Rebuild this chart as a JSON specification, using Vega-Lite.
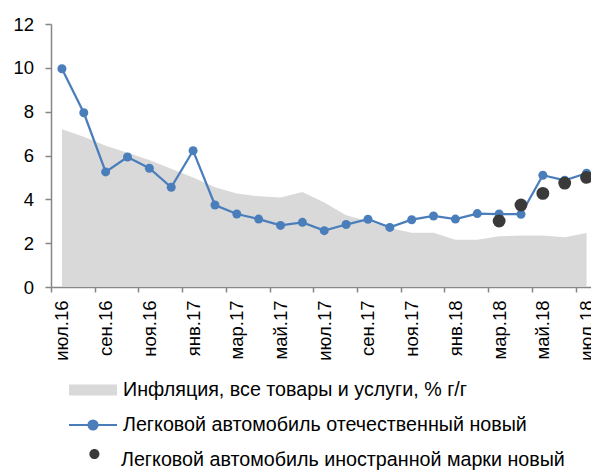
{
  "$schema": "https://vega.github.io/schema/vega-lite/v6.json",
  "width": 540,
  "height": 263,
  "autosize": {"type": "none"},
  "padding": {"left": 51, "top": 24, "right": 0, "bottom": 184},
  "background": "white",
  "data": {
    "values": [
      {"m": "июл.16", "infl": 7.2, "dom": 9.96, "frn": null},
      {"m": "авг.16", "infl": 6.85, "dom": 7.95, "frn": null},
      {"m": "сен.16", "infl": 6.45, "dom": 5.25, "frn": null},
      {"m": "окт.16", "infl": 6.12, "dom": 5.93, "frn": null},
      {"m": "ноя.16", "infl": 5.8, "dom": 5.42, "frn": null},
      {"m": "дек.16", "infl": 5.4, "dom": 4.55, "frn": null},
      {"m": "янв.17", "infl": 5.0, "dom": 6.22, "frn": null},
      {"m": "фев.17", "infl": 4.55, "dom": 3.74, "frn": null},
      {"m": "мар.17", "infl": 4.27, "dom": 3.33, "frn": null},
      {"m": "апр.17", "infl": 4.14, "dom": 3.1, "frn": null},
      {"m": "май.17", "infl": 4.08, "dom": 2.81, "frn": null},
      {"m": "июн.17", "infl": 4.33, "dom": 2.95, "frn": null},
      {"m": "июл.17", "infl": 3.86, "dom": 2.57, "frn": null},
      {"m": "авг.17", "infl": 3.27, "dom": 2.85, "frn": null},
      {"m": "сен.17", "infl": 3.0, "dom": 3.09, "frn": null},
      {"m": "окт.17", "infl": 2.69, "dom": 2.72, "frn": null},
      {"m": "ноя.17", "infl": 2.47, "dom": 3.07, "frn": null},
      {"m": "дек.17", "infl": 2.48, "dom": 3.24, "frn": null},
      {"m": "янв.18", "infl": 2.16, "dom": 3.1, "frn": null},
      {"m": "фев.18", "infl": 2.16, "dom": 3.35, "frn": null},
      {"m": "мар.18", "infl": 2.31, "dom": 3.33, "frn": 3.01},
      {"m": "апр.18", "infl": 2.35, "dom": 3.32, "frn": 3.74},
      {"m": "май.18", "infl": 2.35, "dom": 5.1, "frn": 4.27},
      {"m": "июн.18", "infl": 2.27, "dom": 4.87, "frn": 4.74},
      {"m": "июл.18", "infl": 2.46, "dom": 5.19, "frn": 5.0}
    ]
  },
  "encoding": {
    "x": {
      "field": "m",
      "type": "ordinal",
      "scale": {
        "type": "point",
        "padding": 0.5,
        "range": [0, 546.5],
        "domain": ["июл.16","авг.16","сен.16","окт.16","ноя.16","дек.16","янв.17","фев.17","мар.17","апр.17","май.17","июн.17","июл.17","авг.17","сен.17","окт.17","ноя.17","дек.17","янв.18","фев.18","мар.18","апр.18","май.18","июн.18","июл.18"]
      },
      "axis": {
        "title": null,
        "values": ["июл.16","сен.16","ноя.16","янв.17","мар.17","май.17","июл.17","сен.17","ноя.17","янв.18","мар.18","май.18","июл.18"],
        "labelAngle": 270,
        "tickOffset": -10.93,
        "labelOffset": 10.93,
        "tickSize": 5,
        "labelPadding": 8,
        "grid": false
      }
    }
  },
  "layer": [
    {
      "mark": {"type": "area", "opacity": 1},
      "encoding": {
        "y": {
          "field": "infl",
          "type": "quantitative",
          "scale": {"domain": [0, 12], "nice": false, "zero": true},
          "axis": {
            "title": null,
            "values": [0, 2, 4, 6, 8, 10, 12],
            "tickSize": 6,
            "labelPadding": 11.5,
            "grid": false
          }
        },
        "fill": {
          "datum": "Инфляция, все товары и услуги, % г/г",
          "scale": {"range": ["#d9d9d9"]},
          "legend": {
            "orient": "none",
            "legendX": 17,
            "legendY": 341,
            "title": null,
            "symbolType": "M-1,-0.23H1V0.23H-1Z",
            "symbolSize": 2304,
            "labelOffset": 5
          }
        }
      }
    },
    {
      "mark": {"type": "line", "strokeWidth": 2.25},
      "encoding": {
        "y": {"field": "dom", "type": "quantitative"},
        "stroke": {
          "datum": "Легковой автомобиль отечественный новый",
          "scale": {"range": ["#4a7ebb"]},
          "legend": {
            "orient": "none",
            "legendX": 17,
            "legendY": 376,
            "title": null,
            "symbolType": "M-1,0H1M0.19,0C0.19,0.105 0.105,0.19 0,0.19C-0.105,0.19 -0.19,0.105 -0.19,0C-0.19,-0.105 -0.105,-0.19 0,-0.19C0.105,-0.19 0.19,-0.105 0.19,0Z",
            "symbolSize": 2304,
            "symbolStrokeWidth": 2,
            "symbolFillColor": "#4a7ebb",
            "labelOffset": 5
          }
        }
      }
    },
    {
      "mark": {"type": "circle", "size": 81, "opacity": 1, "color": "#4a7ebb"},
      "encoding": {
        "y": {"field": "dom", "type": "quantitative"}
      }
    },
    {
      "transform": [{"filter": "datum.frn != null"}],
      "mark": {"type": "circle", "size": 165, "opacity": 1},
      "encoding": {
        "y": {"field": "frn", "type": "quantitative"},
        "color": {
          "datum": "Легковой автомобиль иностранной марки новый",
          "scale": {"range": ["#3a3a3a"]},
          "legend": {
            "orient": "none",
            "legendX": 17,
            "legendY": 412,
            "title": null,
            "symbolType": "M0.31,-0.25C0.31,-0.134 0.216,-0.04 0.1,-0.04C-0.016,-0.04 -0.11,-0.134 -0.11,-0.25C-0.11,-0.366 -0.016,-0.46 0.1,-0.46C0.216,-0.46 0.31,-0.366 0.31,-0.25Z",
            "symbolSize": 2304,
            "symbolFillColor": "#262626",
            "symbolStrokeWidth": 0,
            "labelOffset": 5
          }
        }
      }
    }
  ],
  "config": {
    "view": {"stroke": null},
    "font": "Liberation Sans",
    "axis": {
      "labelFont": "Liberation Sans",
      "labelColor": "#000000",
      "domainColor": "#868686",
      "tickColor": "#868686",
      "domainWidth": 1.5,
      "tickWidth": 1.5
    },
    "axisX": {"labelFontSize": 18.5},
    "axisY": {"labelFontSize": 18.5},
    "legend": {
      "labelFont": "Liberation Sans",
      "labelFontSize": 19.7,
      "labelColor": "#000000",
      "labelLimit": 1000,
      "padding": 0
    }
  }
}
